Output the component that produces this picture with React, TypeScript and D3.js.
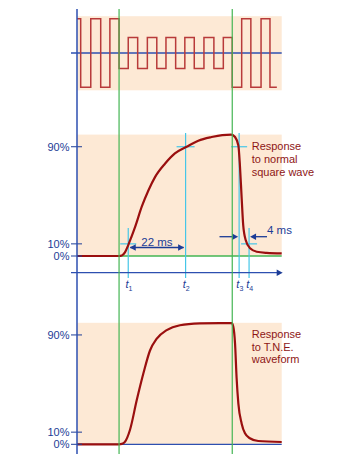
import React from "react";
import * as d3 from "d3";

// Square wave input (time in ms, level -1..1)
const waveTimes = [0, 1.45, 5.4, 9.3, 12.9, 16.5, 20.1, 23.8, 27.6, 31.3, 34.9, 38.7, 42.3, 46.0, 49.8, 53.7, 57.4, 60.9, 64.6, 68.2, 72.2, 75.7, 78.4];
const waveLevels = [1, -1, 1, -1, 1, -0.45, 0.45, -0.45, 0.45, -0.45, 0.45, -0.45, 0.45, -0.45, 0.45, -0.45, 0.45, -1, 1, -1, 1, -1, -1];

// Response to normal square wave (ms, %)
const normT = [0, 16.5, 17.6, 18.8, 20.1, 21.4, 22.8, 25.4, 28, 30.6, 34.5, 38.4, 43, 47.6, 52.8, 57, 60.5, 62, 63.3, 63.9, 64.6, 65.2, 66.2, 67.9, 70.5, 74.4, 80.3];
const normV = [0, 0, 0.4, 3, 9, 16, 24, 40.6, 54, 65, 76, 84.5, 90, 95, 98, 99.6, 100, 98, 91, 75, 47.5, 25.5, 13, 6.3, 3.5, 2.6, 2.2];

// Response to T.N.E. waveform (ms, %)
const tneT = [0, 16.5, 17.6, 18.8, 20.8, 23.4, 26, 28.6, 31.3, 35.2, 40.4, 48.2, 56.1, 60.7, 61.3, 62, 62.6, 63.3, 64.6, 65.9, 67.8, 71.1, 80.3];
const tneV = [0, 0, 0.3, 2, 12, 36, 58, 77, 87, 94, 98, 99.5, 99.8, 99.8, 97, 83, 55, 33.5, 17, 9, 5, 2.7, 1.9];

const yTicks = [0, 10, 90];
const yTickLabels = ["0%", "10%", "90%"];
const greenTimes = [16.5, 60.9];
const markerTimes = [20.1, 42.6, 63.6, 67.5];
const markerNames = ["1", "2", "3", "4"];
const riseLabel = "22 ms";
const fallLabel = "4 ms";
const label1 = ["Response", "to normal", "square wave"];
const label2 = ["Response", "to T.N.E.", "waveform"];

const NAVY = "#1c3c96";
const BLUE = "#2d4fb0";
const GREEN = "#43b552";
const CYAN = "#45c6e8";
const PEACH = "#fde9d5";
const DARKRED = "#9a0f0f";
const WAVERED = "#b83a3a";
const LABELRED = "#8e1616";
const FONT = "'Liberation Sans', Arial, sans-serif";

export default function App() {
  const x = d3.scaleLinear().domain([0, 80.3]).range([77, 281.7]);
  const yTop = d3.scaleLinear().domain([-1, 1]).range([87.3, 18.7]);
  const yMid = d3.scaleLinear().domain([0, 100]).range([256, 134.6]);
  const yBot = d3.scaleLinear().domain([0, 100]).range([444.3, 322.8]);

  const wavePts: [number, number][] = waveTimes.map((t, i) => [t, waveLevels[i]]);
  const waveLine = d3.line<[number, number]>().x(d => x(d[0])).y(d => yTop(d[1])).curve(d3.curveStepAfter);

  const normPts: [number, number][] = normT.map((t, i) => [t, normV[i]]);
  const tnePts: [number, number][] = tneT.map((t, i) => [t, tneV[i]]);
  const midLine = d3.line<[number, number]>().x(d => x(d[0])).y(d => yMid(d[1])).curve(d3.curveMonotoneX);
  const botLine = d3.line<[number, number]>().x(d => x(d[0])).y(d => yBot(d[1])).curve(d3.curveMonotoneX);

  const x0 = x(0);
  const x1 = x(80.3);
  const axisY = 272.7;

  const arrowHead = (tipX: number, tipY: number, dir: number, key: string) => (
    <path key={key} d={`M${tipX},${tipY} L${tipX - dir * 6},${tipY - 3.2} L${tipX - dir * 6},${tipY + 3.2} Z`} fill={NAVY} />
  );

  const ticks = (ys: d3.ScaleLinear<number, number>, key: string) =>
    yTicks.map((v, i) => (
      <g key={key + i}>
        <line x1={71} x2={82} y1={ys(v)} y2={ys(v)} stroke={NAVY} strokeWidth={1} />
        <text x={69.5} y={ys(v) + 4} textAnchor="end" fontSize={11} fill={NAVY} fontFamily={FONT}>{yTickLabels[i]}</text>
      </g>
    ));

  const [t1, t2, t3, t4] = markerTimes.map(t => x(t));
  const arrY1 = 247.5;
  const arrY2 = 236.7;

  return (
    <svg width={357} height={464} style={{ position: "absolute", left: 0, top: 0, background: "#fff" }}>
      {/* backgrounds */}
      <rect x={x0} y={yTop(1) - 2.5} width={x1 - x0} height={yTop(-1) - yTop(1) + 5.5} fill={PEACH} />
      <rect x={x0} y={yMid(100)} width={x1 - x0} height={yMid(0) - yMid(100)} fill={PEACH} />
      <rect x={x0} y={yBot(100)} width={x1 - x0} height={yBot(0) - yBot(100)} fill={PEACH} />

      {/* top panel */}
      <line x1={71} x2={x1} y1={yTop(0)} y2={yTop(0)} stroke={BLUE} strokeWidth={1.3} />
      <path d={waveLine(wavePts) || ""} fill="none" stroke={WAVERED} strokeWidth={1.5} />

      {/* middle panel */}
      <line x1={x0} x2={x1} y1={yMid(0)} y2={yMid(0)} stroke={GREEN} strokeWidth={1.3} />
      {/* cyan markers */}
      <line x1={t1} x2={t1} y1={228} y2={278} stroke={CYAN} strokeWidth={1.2} />
      <line x1={t2} x2={t2} y1={133} y2={278} stroke={CYAN} strokeWidth={1.2} />
      <line x1={t3} x2={t3} y1={133} y2={278} stroke={CYAN} strokeWidth={1.2} />
      <line x1={t4} x2={t4} y1={228} y2={278} stroke={CYAN} strokeWidth={1.2} />
      <line x1={t1 - 8} x2={t1 + 8} y1={yMid(10)} y2={yMid(10)} stroke={CYAN} strokeWidth={1.2} />
      <line x1={t2 - 9} x2={t2 + 9} y1={yMid(90)} y2={yMid(90)} stroke={CYAN} strokeWidth={1.2} />
      <line x1={t3 - 8} x2={t3 + 8} y1={yMid(90)} y2={yMid(90)} stroke={CYAN} strokeWidth={1.2} />
      <line x1={t4 - 8} x2={t4 + 8} y1={yMid(10)} y2={yMid(10)} stroke={CYAN} strokeWidth={1.2} />

      <path d={midLine(normPts) || ""} fill="none" stroke={DARKRED} strokeWidth={2.2} />

      {/* time axis */}
      <line x1={71} x2={x1 - 4} y1={axisY} y2={axisY} stroke={BLUE} strokeWidth={1.3} />
      {arrowHead(x1 + 1, axisY, 1, "ax")}

      {/* 22 ms arrow */}
      <line x1={t1 + 2} x2={t2 - 2} y1={arrY1} y2={arrY1} stroke={NAVY} strokeWidth={1.3} />
      {arrowHead(t1 + 1.5, arrY1, -1, "a1")}
      {arrowHead(t2 - 1.5, arrY1, 1, "a2")}
      <text x={(t1 + t2) / 2} y={arrY1 - 1.5} textAnchor="middle" fontSize={11.5} fill={NAVY} fontFamily={FONT}>{riseLabel}</text>

      {/* 4 ms arrows */}
      <line x1={219.5} x2={t3 - 4} y1={arrY2} y2={arrY2} stroke={NAVY} strokeWidth={1.3} />
      {arrowHead(t3 - 1, arrY2, 1, "a3")}
      <line x1={t4 + 4} x2={267} y1={arrY2} y2={arrY2} stroke={NAVY} strokeWidth={1.3} />
      {arrowHead(t4 + 1, arrY2, -1, "a4")}
      <text x={267} y={234.3} fontSize={11.5} fill={NAVY} fontFamily={FONT}>{fallLabel}</text>

      {/* t labels */}
      {markerTimes.map((t, i) => (
        <text key={"tl" + i} x={x(t) - 2.8} y={288} fontSize={11} fill={NAVY} fontFamily={FONT} fontStyle="italic">
          t<tspan fontSize={7} dy={3} fontStyle="normal">{markerNames[i]}</tspan>
        </text>
      ))}

      {ticks(yMid, "m")}

      {/* bottom panel */}
      <line x1={x0} x2={x1} y1={yBot(0)} y2={yBot(0)} stroke={BLUE} strokeWidth={1.3} />
      <path d={botLine(tnePts) || ""} fill="none" stroke={DARKRED} strokeWidth={2.2} />
      {ticks(yBot, "b")}

      {/* green verticals */}
      {greenTimes.map((t, i) => (
        <line key={"g" + i} x1={x(t)} x2={x(t)} y1={9} y2={454} stroke={GREEN} strokeWidth={1.2} />
      ))}

      {/* main vertical axis */}
      <line x1={x0} x2={x0} y1={9} y2={454} stroke={BLUE} strokeWidth={1.5} />

      {/* labels */}
      {label1.map((s, i) => (
        <text key={"l1" + i} x={251.7} y={150 + i * 13} fontSize={11} fill={LABELRED} fontFamily={FONT}>{s}</text>
      ))}
      {label2.map((s, i) => (
        <text key={"l2" + i} x={251.7} y={338.3 + i * 12.5} fontSize={11} fill={LABELRED} fontFamily={FONT}>{s}</text>
      ))}
    </svg>
  );
}
